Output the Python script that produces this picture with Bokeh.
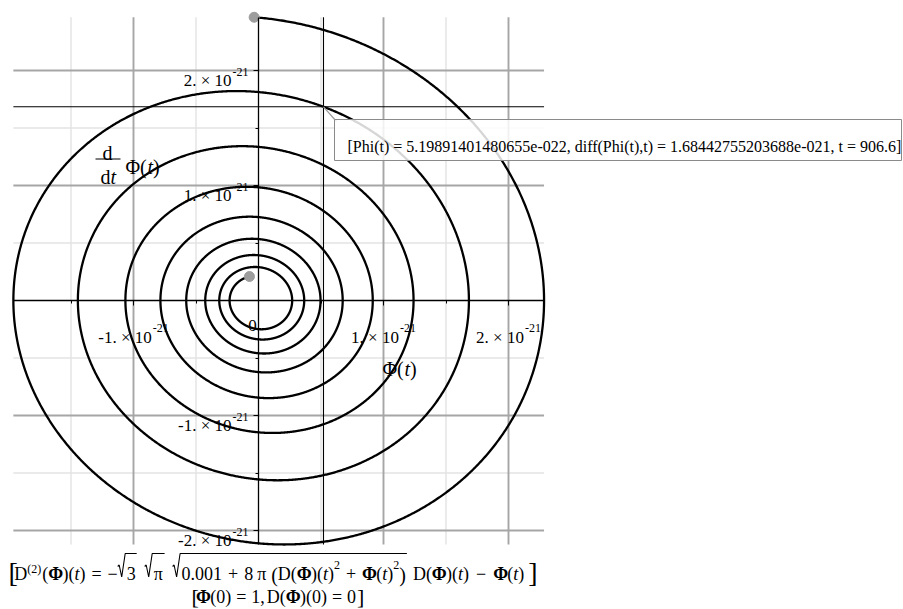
import math
from collections import defaultdict

import numpy as np
from bokeh.plotting import figure
from bokeh.models import Range1d, LinearAxis, FixedTicker, ColumnDataSource
from bokeh.embed import file_html
from bokeh.resources import INLINE
from bokeh.core.properties import value

# ---------------------------------------------------------------- data
UNIT = 1e-21                       # axis values are labelled in multiples of 1e-21

# cursor probe on the trajectory
probe_t = 906.6
probe_phi = 5.19891401480655e-022
probe_dphi = 1.68442755203688e-021

# time window of the plotted trajectory
t_start = 900.0
t_end = 950.0

# D2(Phi) = -sqrt(3) sqrt(pi) sqrt(0.001 + 8 pi (D(Phi)^2 + Phi^2)) D(Phi) - Phi
coef_root3pi = math.sqrt(3.0) * math.sqrt(math.pi)
coef_const = 0.001
coef_energy = 8.0 * math.pi

major_ticks = [-2, -1, 1, 2]
minor_ticks = [-1.5, -0.5, 0.5, 1.5]
tick_mantissas = {-2: "-2.", -1: "-1.", 1: "1.", 2: "2."}
tick_exponent = "-21"

# ---------------------------------------------------------------- trajectory
def accel(phi, dphi):
    return -coef_root3pi * math.sqrt(coef_const + coef_energy * (dphi * dphi + phi * phi)) * dphi - phi


def rk4(phi, dphi, t0, t1, h=0.005):
    n = max(1, int(round(abs(t1 - t0) / h)))
    h = (t1 - t0) / n
    ph, dp = [phi], [dphi]
    for _ in range(n):
        k1x, k1v = dphi, accel(phi, dphi)
        k2x, k2v = dphi + 0.5 * h * k1v, accel(phi + 0.5 * h * k1x, dphi + 0.5 * h * k1v)
        k3x, k3v = dphi + 0.5 * h * k2v, accel(phi + 0.5 * h * k2x, dphi + 0.5 * h * k2v)
        k4x, k4v = dphi + h * k3v, accel(phi + h * k3x, dphi + h * k3v)
        phi += h * (k1x + 2 * k2x + 2 * k3x + k4x) / 6.0
        dphi += h * (k1v + 2 * k2v + 2 * k3v + k4v) / 6.0
        ph.append(phi)
        dp.append(dphi)
    return np.array(ph), np.array(dp)


back_phi, back_dphi = rk4(probe_phi, probe_dphi, probe_t, t_start)
fwd_phi, fwd_dphi = rk4(probe_phi, probe_dphi, probe_t, t_end)
phi = np.concatenate([back_phi[::-1], fwd_phi[1:]]) / UNIT
dphi = np.concatenate([back_dphi[::-1], fwd_dphi[1:]]) / UNIT

xmin, xmax = phi.min(), phi.max()
ymin, ymax = dphi.min(), dphi.max()
px_ = probe_phi / UNIT
py_ = probe_dphi / UNIT

# ---------------------------------------------------------------- canvas
W, H = 903, 609
OX, OY = 258.0, 300.0      # pixel position of the origin
KX, KY = 125.0, 115.0      # pixels per 1e-21 on each axis


def to_x(px):
    return (px - OX) / KX


def to_y(py):
    return (OY - py) / KY


p = figure(width=W, height=H,
           x_range=Range1d(to_x(0), to_x(W)), y_range=Range1d(to_y(H), to_y(0)),
           x_axis_type=None, y_axis_type=None,
           toolbar_location=None, output_backend="svg", min_border=0)
p.outline_line_color = None
p.background_fill_color = "white"
p.border_fill_color = "white"

SERIF = "Liberation Serif"
INK = "#000000"

# grid inside the data extent
def grid(vals, color, width):
    vx = [v for v in vals if xmin <= v <= xmax]
    hy = [v for v in vals if ymin <= v <= ymax]
    p.segment(x0=vx, y0=[ymin] * len(vx), x1=vx, y1=[ymax] * len(vx),
              line_color=color, line_width=width)
    p.segment(x0=[xmin] * len(hy), y0=hy, x1=[xmax] * len(hy), y1=hy,
              line_color=color, line_width=width)


grid(minor_ticks, "#e3e3e3", 1.4)
grid(major_ticks, "#a6a6a6", 1.9)

# axes through the origin, ticks only inside the data extent
for side, (lo, hi) in (("below", (xmin, xmax)), ("left", (ymin, ymax))):
    ticker = FixedTicker(ticks=[t for t in major_ticks if lo <= t <= hi],
                         minor_ticks=[t for t in minor_ticks if lo <= t <= hi])
    ax = LinearAxis(fixed_location=0, ticker=ticker, bounds=(lo, hi),
                    axis_line_color="black", axis_line_width=1.3,
                    major_tick_line_color="black", major_tick_in=0, major_tick_out=5,
                    minor_tick_line_color="black", minor_tick_in=0, minor_tick_out=3,
                    major_label_text_color=None, major_label_standoff=0)
    p.add_layout(ax, side)

# trajectory
p.line(phi, dphi, line_color="black", line_width=2.3, line_join="round")
p.scatter([phi[0], phi[-1]], [dphi[0], dphi[-1]], size=10,
          fill_color="#9d9d9d", line_color="#9d9d9d")

# cursor cross-hair
p.segment(x0=[xmin, px_], y0=[py_, ymin], x1=[xmax, px_], y1=[py_, ymax],
          line_color="black", line_width=1.1)
p.segment(x0=[px_], y0=[py_], x1=[to_x(336)], y1=[to_y(121)],
          line_color="#9a9a9a", line_width=1.2)
p.quad(left=[to_x(334)], right=[to_x(901)], top=[to_y(119)], bottom=[to_y(160)],
       fill_color="white", fill_alpha=0.84, line_color="#8a8a8a", line_width=1)

# ---------------------------------------------------------------- texts
ADV = {' ': 250, '(': 333, ')': 333, '[': 333, ']': 333, '+': 564, ',': 250, '-': 333,
       '.': 250, '=': 564, 'D': 722, 'P': 556, 'd': 500, 'e': 444, 'f': 333, 'h': 500,
       'i': 278, 't': 278, '×': 564, '−': 564, 'π': 550, 'Φ': 763}
for c in "0123456789":
    ADV[c] = 500


def text_w(s, size, style="normal"):
    k = 1.03 if style == "bold" else 1.0
    return sum(ADV.get(c, 500) for c in s) * size / 1000.0 * k


texts = []


def put(px, py, txt, size, style="normal", align="left"):
    texts.append((px, py, txt, size, style, align))


def fmt_sci(v):
    m, e = f"{v:.14e}".split("e")
    return f"{m}e{'-' if int(e) < 0 else '+'}{abs(int(e)):03d}"


probe_label = (f"[Phi(t) = {fmt_sci(probe_phi)}, diff(Phi(t),t) = {fmt_sci(probe_dphi)}, "
               f"t = {probe_t}]")
put(347, 146, probe_label, 16)

# tick labels
for t in major_ticks:
    base = tick_mantissas[t] + " × 10"
    bw = text_w(base, 17)
    sw = text_w(tick_exponent, 12)
    if xmin <= t <= xmax:
        left = OX + t * KX - (bw + 1 + sw) / 2
        put(left, OY + 37, base, 17)
        put(left + bw + 1, OY + 27, tick_exponent, 12)
    if ymin <= t <= ymax:
        ty = OY - t * KY
        put(OX - 27, ty + 10, base, 17, align="right")
        put(OX - 26, ty + 1, tick_exponent, 12)
put(252, 325, "0", 17, align="center")

# axis titles
put(382, 368, "Φ(", 20)
put(382 + text_w("Φ(", 20), 368, "t", 20, "italic")
put(382 + text_w("Φ(t", 20), 368, ")", 20)
put(102, 152, "d", 20)
put(100, 176, "d", 20)
put(100 + text_w("d", 20), 176, "t", 20, "italic")
put(125, 166, "Φ(", 20)
put(125 + text_w("Φ(", 20), 166, "t", 20, "italic")
put(125 + text_w("Φ(t", 20), 166, ")", 20)
p.segment(x0=[to_x(95)], y0=[to_y(158.5)], x1=[to_x(120)], y1=[to_y(158.5)],
          line_color="black", line_width=1.1)

# equation lines
STY = {"n": (18, "normal", 0), "i": (18, "italic", 0), "b": (18, "bold", 0),
       "sup": (12, "normal", -9), "supd": (12, "normal", -5), "par": (20, "normal", 1),
       "brk": (28, "normal", -1), "brk2": (22, "normal", 0)}
radicals_x, radicals_y = [], []


def layout(runs, x, base):
    rad0 = None
    for kind, txt in runs:
        if kind == "gap":
            x += txt
            continue
        if kind == "rad":
            rad0 = x
            x += 9
            continue
        if kind == "endrad":
            radicals_x.append([to_x(v) for v in (rad0, rad0 + 1.5, rad0 + 4, rad0 + 7.5, x + 1)])
            radicals_y.append([to_y(v) for v in (base - 7, base - 8.5, base + 3.5, base - 20, base - 20)])
            x += 2
            continue
        size, style, dy = STY[kind]
        put(x, base + dy, txt, size, style)
        w = text_w(txt, size, style)
        x += w * (0.62 if kind.startswith("brk") else 1.0)
    return x


line1 = [("brk", "["), ("n", "D"), ("supd", "(2)"), ("gap", 1), ("n", "("), ("b", "Φ"),
         ("n", ")("), ("i", "t"), ("n", ")"), ("gap", 6), ("n", "="), ("gap", 6), ("n", "−"),
         ("rad", ""), ("n", "3"), ("endrad", ""), ("gap", 7),
         ("rad", ""), ("n", "π"), ("endrad", ""), ("gap", 7),
         ("rad", ""), ("n", "0.001"), ("gap", 6), ("n", "+"), ("gap", 6), ("n", "8"), ("gap", 4),
         ("n", "π"), ("gap", 4), ("par", "("), ("n", "D("), ("b", "Φ"), ("n", ")("), ("i", "t"),
         ("n", ")"), ("sup", "2"), ("gap", 6), ("n", "+"), ("gap", 6), ("b", "Φ"), ("n", "("),
         ("i", "t"), ("n", ")"), ("sup", "2"), ("par", ")"), ("endrad", ""), ("gap", 5),
         ("n", "D("), ("b", "Φ"), ("n", ")("), ("i", "t"), ("n", ")"), ("gap", 7), ("n", "−"),
         ("gap", 7), ("b", "Φ"), ("n", "("), ("i", "t"), ("n", ")"), ("gap", 4), ("brk", "]")]
line2 = [("brk2", "["), ("b", "Φ"), ("n", "(0)"), ("gap", 5), ("n", "="), ("gap", 5),
         ("n", "1,"), ("gap", 2), ("n", "D("), ("b", "Φ"), ("n", ")(0)"), ("gap", 5), ("n", "="),
         ("gap", 5), ("n", "0"), ("gap", 1), ("brk2", "]")]
layout(line1, 8, 573)
layout(line2, 191, 596)
p.multi_line(radicals_x, radicals_y, line_color=INK, line_width=1.1)

groups = defaultdict(lambda: dict(x=[], y=[], text=[]))
for px, py, txt, size, style, align in texts:
    g = groups[(size, style, align)]
    g["x"].append(to_x(px))
    g["y"].append(to_y(py))
    g["text"].append(txt)
for (size, style, align), g in groups.items():
    p.text(x="x", y="y", text="text", source=ColumnDataSource(g),
           text_font=value(SERIF), text_font_size=f"{size}px", text_font_style=style,
           text_align=align, text_baseline="alphabetic", text_color=INK)

open("out.html", "w").write(file_html(p, INLINE))
